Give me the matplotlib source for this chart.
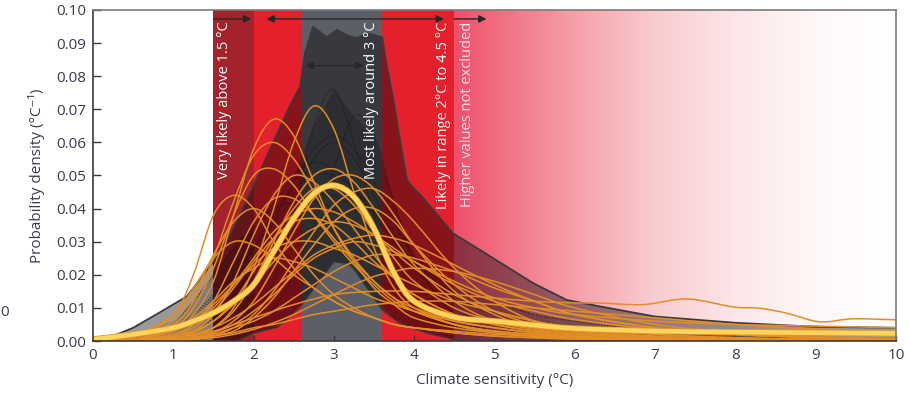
import numpy as np
import matplotlib
matplotlib.use("Agg")
import matplotlib.pyplot as plt
from matplotlib.path import Path
from matplotlib.patches import PathPatch
from matplotlib.colors import LinearSegmentedColormap

plt.rcParams['font.family'] = ['Open Sans', 'DejaVu Sans']

# ---------------- data ----------------
x_ticks = [0, 1, 2, 3, 4, 5, 6, 7, 8, 9, 10]
y_ticks = [0.00, 0.01, 0.02, 0.03, 0.04, 0.05, 0.06, 0.07, 0.08, 0.09, 0.10]

# shaded likelihood bands (x ranges, °C)
band_edges = [1.5, 2.0, 2.6, 3.6, 4.5]
band_colors = ['#a3222b', '#e3202c', '#5c5f68', '#e3202c']
gradient_start = 4.5
gradient_pos = [4.5, 5.0, 6.0, 7.0, 8.0, 9.0, 10.0]
gradient_cols = ['#ee4f6b', '#f16b81', '#f5a0a9', '#f9cccf', '#fce6e8', '#fff8f8', '#ffffff']

# envelope of earlier estimates
env_up_x = [0.1, 0.5, 0.8, 1.17, 1.5, 1.75, 2.0, 2.3, 2.45, 2.58, 2.64, 2.74, 2.91, 3.04,
            3.16, 3.29, 3.41, 3.6, 3.66, 3.74, 3.82, 3.91, 4.0, 4.12, 4.48, 4.82, 5.48,
            5.9, 6.3, 7.0, 8.0, 9.0, 10.0]
env_up_y = [0.0, 0.004, 0.0082, 0.0135, 0.024, 0.034, 0.047, 0.063, 0.071, 0.077, 0.087,
            0.095, 0.0918, 0.094, 0.0924, 0.0915, 0.093, 0.0918, 0.083, 0.073, 0.061,
            0.0486, 0.046, 0.043, 0.0326, 0.0275, 0.0175, 0.0124, 0.0105, 0.0074,
            0.0055, 0.0043, 0.004]
env_lo_x = [0.0, 1.8, 2.0, 2.3, 2.58, 2.8, 3.0, 3.2, 3.4, 3.6, 3.82, 4.16, 4.4, 4.6, 10.0]
env_lo_y = [0.0, 0.0, 0.0024, 0.0042, 0.0103, 0.0175, 0.024, 0.0235, 0.0165, 0.0094,
            0.0054, 0.0024, 0.001, 0.0, 0.0]

# common x grid for individual PDFs (°C)
grid_x = [0, 0.5, 1, 1.25, 1.5, 1.75, 2, 2.25, 2.5, 2.75, 3, 3.25, 3.5, 3.75, 4,
          4.5, 5, 5.5, 6, 7, 8, 9, 10]

# dotted earlier-study PDFs (values x 1e-3)
dotted_pdfs = [
    [0, 0, 0, 0.5, 1, 3, 8, 18, 38, 65, 76, 60, 38, 20, 10, 4, 2, 1, 0.5, 0.2, 0.1, 0, 0],
    [0, 0, 0, 0.3, 1, 2, 5, 10, 20, 35, 52, 68, 62, 42, 24, 8, 3, 1.5, 1, 0.4, 0.2, 0.1, 0],
    [0, 0, 0.5, 1.5, 4, 9, 17, 28, 42, 55, 60, 55, 44, 32, 22, 10, 5, 3, 2, 1, 0.5, 0.3, 0.2],
    [0, 0.5, 2, 5, 10, 18, 28, 38, 46, 50, 50, 46, 39, 31, 24, 14, 8, 5, 3, 1.5, 0.8, 0.5, 0.3],
    [0, 1, 4, 8, 14, 22, 32, 42, 50, 54, 52, 46, 38, 30, 23, 14, 9, 6, 4, 2, 1.2, 0.7, 0.5],
    [0, 1, 6, 12, 20, 28, 35, 40, 42, 42, 40, 36, 32, 28, 24, 17, 12, 8, 6, 3, 2, 1.2, 0.8],
    [0, 0, 1, 3, 7, 14, 24, 36, 48, 58, 62, 58, 48, 36, 26, 14, 8, 5, 3.5, 2, 1, 0.6, 0.4],
    [0, 0.5, 3, 7, 13, 20, 28, 36, 42, 45, 44, 40, 34, 28, 22, 14, 9, 6, 4, 2, 1.2, 0.8, 0.5],
]

# model PDFs (values x 1e-3)
model_pdfs = [
    [0, 1, 8, 20, 38, 44, 40, 30, 22, 16, 12, 9, 7, 5, 4, 3, 2, 1.5, 1, 0.5, 0.3, 0.2, 0.1],
    [0, 0.5, 3, 8, 18, 38, 58, 67, 62, 48, 34, 24, 16, 11, 7, 4, 2.5, 1.5, 1, 0.5, 0.3, 0.2, 0.1],
    [0, 0.5, 5, 12, 25, 42, 56, 60, 55, 45, 34, 25, 18, 13, 9, 5, 3, 2, 1.2, 0.6, 0.3, 0.2, 0.1],
    [0, 0, 0.5, 1.5, 4, 10, 22, 40, 60, 71, 64, 45, 28, 16, 10, 5, 2.5, 1.5, 1, 0.5, 0.3, 0.2, 0.1],
    [0, 0.5, 4, 10, 22, 38, 50, 52, 47, 38, 30, 23, 17, 12, 9, 5, 3, 2, 1.3, 0.6, 0.3, 0.2, 0.1],
    [0, 0, 1, 3, 8, 18, 32, 44, 50, 48, 42, 34, 26, 19, 14, 8, 5, 3, 2, 1, 0.5, 0.3, 0.2],
    [0, 0, 0.5, 1.5, 4, 9, 18, 30, 42, 50, 52, 48, 40, 31, 23, 12, 6, 3.5, 2, 1, 0.5, 0.3, 0.2],
    [0, 0, 0.3, 1, 2.5, 6, 12, 22, 33, 43, 49, 50, 46, 38, 29, 15, 8, 4, 2.5, 1, 0.5, 0.3, 0.2],
    [0, 0, 0.2, 0.6, 1.5, 4, 8, 15, 24, 33, 41, 45, 46, 42, 36, 22, 12, 6, 3.5, 1.5, 0.8, 0.4, 0.2],
    [0, 0.5, 2, 5, 10, 17, 25, 33, 38, 40, 39, 36, 32, 27, 22, 14, 9, 6, 4, 2, 1, 0.5, 0.3],
    [0, 0.2, 1, 2, 4, 7, 11, 16, 21, 26, 29, 31, 32, 31, 29, 23, 17, 12, 8, 4, 2, 1, 0.5],
    [0, 1, 6, 14, 26, 36, 40, 36, 28, 20, 14, 10, 7, 5, 4, 2.5, 1.5, 1, 0.6, 0.3, 0.2, 0.1, 0.1],
    [0, 0.3, 2, 5, 12, 24, 36, 43, 43, 38, 31, 24, 18, 13, 10, 6, 4, 2.5, 1.5, 0.8, 0.4, 0.2, 0.1],
    [0, 0, 1, 2.5, 6, 12, 21, 31, 40, 46, 46, 41, 33, 25, 18, 10, 6, 4, 2.5, 1.2, 0.6, 0.3, 0.2],
    [0, 0.2, 1.5, 3, 6, 11, 17, 24, 30, 34, 36, 35, 32, 28, 24, 17, 12, 9, 6.5, 3.5, 2, 1.2, 0.8],
    [0, 0.5, 3, 6, 11, 17, 23, 28, 30, 30, 28, 26, 23, 20, 17, 12, 9, 6, 4, 2, 1, 0.6, 0.4],
    [0, 0, 0.5, 1, 2, 4, 6, 9, 13, 17, 21, 24, 26, 26, 25, 21, 16, 12, 8, 4, 2, 1, 0.5],
    [0, 0, 0.5, 1, 2.5, 5, 9, 14, 20, 25, 28, 30, 29, 27, 24, 18, 13, 10, 8, 6, 5, 4.5, 4],
    [0, 1.5, 8, 16, 25, 30, 29, 25, 20, 16, 12, 9, 7, 5, 4, 2.5, 1.5, 1, 0.6, 0.3, 0.2, 0.1, 0.1],
    [0, 0, 0.2, 0.5, 1, 2, 3.5, 5.5, 8, 11, 14, 17, 19.5, 21, 22, 21, 18, 14, 10, 5, 2.5, 1.2, 0.6],
    [0, 0.2, 1.5, 4, 9, 16, 24, 31, 36, 37, 35, 30, 24, 19, 14, 8, 5, 3, 2, 1, 0.5, 0.3, 0.2],
    [0, 0, 0.2, 0.5, 1.5, 3, 7, 13, 21, 29, 36, 40, 40, 36, 29, 17, 9, 5, 3, 1.3, 0.6, 0.3, 0.2],
    [0, 0.5, 3, 7, 12, 18, 22, 25, 24, 22, 19, 16, 13, 11, 9, 6, 4, 2.5, 1.5, 0.7, 0.4, 0.2, 0.1],
    [0, 0, 0.5, 1, 1.5, 2.5, 4, 5, 6.5, 8, 9, 10, 11, 11.5, 12, 12, 11, 10, 9, 7, 5, 3.5, 2.5],
]

# long-tailed model PDF (own sampling, values x 1e-3)
tail_x = [0, 0.5, 1, 1.5, 2, 2.5, 3, 3.5, 4, 4.5, 5, 5.5, 6.0, 6.3, 6.85, 7.4, 7.97,
          8.3, 8.64, 9.05, 9.46, 10.0]
tail_y = [0, 0.2, 1, 3, 7, 11, 14, 15, 15, 14, 13, 12, 11.5, 11.5, 11, 12.7, 10.3,
          9.9, 8.4, 5.8, 6.7, 6.4]

# multi-model mean PDF (values x 1e-3)
mean_pdf = [0.5, 2, 4, 6, 8.5, 12, 17, 27, 37, 44.5, 47, 43.5, 34, 20.5, 12, 7.2, 6,
            4.8, 3.8, 3, 2.7, 2.5, 2.3]

band_labels = ['Very likely above 1.5 °C', 'Most likely around 3 °C',
               'Likely in range 2°C to 4.5 °C', 'Higher values not excluded']
band_label_x = [1.64, 3.47, 4.36, 4.67]

x_label = 'Climate sensitivity (°C)'
y_label = 'Probability density (°C⁻¹)'


# ---------------- helpers ----------------
def smooth_path(xs, ys):
    pts = np.column_stack([xs, ys]).astype(float)
    n = len(pts)
    verts = [pts[0]]
    codes = [Path.MOVETO]
    for i in range(n - 1):
        p0 = pts[max(i - 1, 0)]
        p1 = pts[i]
        p2 = pts[i + 1]
        p3 = pts[min(i + 2, n - 1)]
        c1 = p1 + (p2 - p0) / 6.0
        c2 = p2 - (p3 - p1) / 6.0
        verts += [c1, c2, p2]
        codes += [Path.CURVE4] * 3
    return Path(verts, codes)


def draw_curve(ax, xs, ys, **kw):
    patch = PathPatch(smooth_path(xs, ys), fill=False, **kw)
    ax.add_patch(patch)
    return patch


# ---------------- figure ----------------
fig = plt.figure(figsize=(9.10, 3.98), dpi=100)
ax = fig.add_axes([0.1022, 0.1432, 0.8824, 0.8317])
ax.set_xlim(0, 10)
ax.set_ylim(0, 0.10)

# gradient region
grad_cmap = LinearSegmentedColormap.from_list(
    'grad', list(zip([(p - gradient_pos[0]) / (gradient_pos[-1] - gradient_pos[0])
                      for p in gradient_pos], gradient_cols)))
ax.imshow(np.linspace(0, 1, 256).reshape(1, -1), cmap=grad_cmap, aspect='auto',
          extent=[gradient_start, 10, 0, 0.10], zorder=0, interpolation='bilinear')
for i, c in enumerate(band_colors):
    ax.axvspan(band_edges[i], band_edges[i + 1], color=c, lw=0, zorder=0.5)

# envelope
ax.fill(np.concatenate([env_up_x, env_lo_x[::-1]]),
        np.concatenate([env_up_y, env_lo_y[::-1]]),
        facecolor='black', alpha=0.40, lw=0, zorder=1)
ax.plot(env_up_x, env_up_y, color='#3a3a3a', lw=1.3, zorder=1.2)
ax.plot(env_lo_x, env_lo_y, color='#3a3a3a', lw=1.0, zorder=1.2)

gx = np.array(grid_x)
dotted_arr = np.array(dotted_pdfs) * 1e-3
# darker core where the dotted earlier-study curves overlap
core_top = dotted_arr.max(axis=0)
core_lo = np.interp(gx, env_lo_x, env_lo_y)
ax.fill_between(gx, np.minimum(core_lo, core_top), core_top, facecolor='black',
                alpha=0.18, lw=0, zorder=1.3)
for d in dotted_arr:
    draw_curve(ax, gx, d, edgecolor='#151515', lw=0.9,
               linestyle=(0, (1, 1.2)), alpha=0.75, zorder=1.5)

for m in model_pdfs:
    draw_curve(ax, gx, np.array(m) * 1e-3, edgecolor='#e38d26', lw=1.1, zorder=2)
draw_curve(ax, np.array(tail_x), np.array(tail_y) * 1e-3, edgecolor='#e38d26', lw=1.1, zorder=2)

draw_curve(ax, gx, np.array(mean_pdf) * 1e-3, edgecolor='#e8962a', lw=4.4, zorder=3,
           capstyle='round', joinstyle='round')
draw_curve(ax, gx, np.array(mean_pdf) * 1e-3, edgecolor='#ffd55c', lw=3.3, zorder=3.1,
           capstyle='round', joinstyle='round')

# band labels
for lab, xl in zip(band_labels, band_label_x):
    col = '#fde3e7' if lab.startswith('Higher') else 'white'
    ax.text(xl, 0.0965, lab, rotation=90, ha='center', va='top', color=col,
            fontsize=10.5, zorder=5)

# arrows
arrow_kw = dict(color='#262626', lw=1.0, shrinkA=0, shrinkB=0, mutation_scale=11)
ax.annotate('', xy=(1.97, 0.0973), xytext=(1.5, 0.0973),
            arrowprops=dict(arrowstyle='-|>', **arrow_kw), zorder=6)
ax.annotate('', xy=(4.37, 0.0973), xytext=(2.16, 0.0973),
            arrowprops=dict(arrowstyle='<|-|>', **arrow_kw), zorder=6)
ax.annotate('', xy=(4.9, 0.0973), xytext=(4.5, 0.0973),
            arrowprops=dict(arrowstyle='-|>', **arrow_kw), zorder=6)
ax.annotate('', xy=(3.37, 0.0832), xytext=(2.65, 0.0832),
            arrowprops=dict(arrowstyle='<|-|>', **arrow_kw), zorder=6)

# axes styling
ax.set_xticks(x_ticks)
ax.set_yticks(y_ticks)
ax.set_yticklabels([f'{v:.2f}' for v in y_ticks])
ax.tick_params(axis='both', direction='in', colors='#3a3a3a', labelcolor='#3b3b4f',
               labelsize=11, width=1.0)
ax.tick_params(axis='y', length=6, pad=5)
ax.tick_params(axis='x', length=4, pad=5)
for side in ['left', 'bottom']:
    ax.spines[side].set_color('#3a3a3a')
    ax.spines[side].set_linewidth(1.2)
for side in ['top', 'right']:
    ax.spines[side].set_color('#7a7a7a')
    ax.spines[side].set_linewidth(1.2)
for s in ax.spines.values():
    s.set_zorder(10)

ax.set_xlabel(x_label, fontsize=11, color='#3b3b4f', labelpad=7)
ax.set_ylabel(y_label, fontsize=11, color='#3b3b4f', labelpad=8)

# stray cropped digit on the left edge (from the source page)
fig.text(0.010, 0.215, '0', fontsize=11, color='#3b3b4f', ha='right', va='center')

fig.savefig('out.png', dpi=100)
